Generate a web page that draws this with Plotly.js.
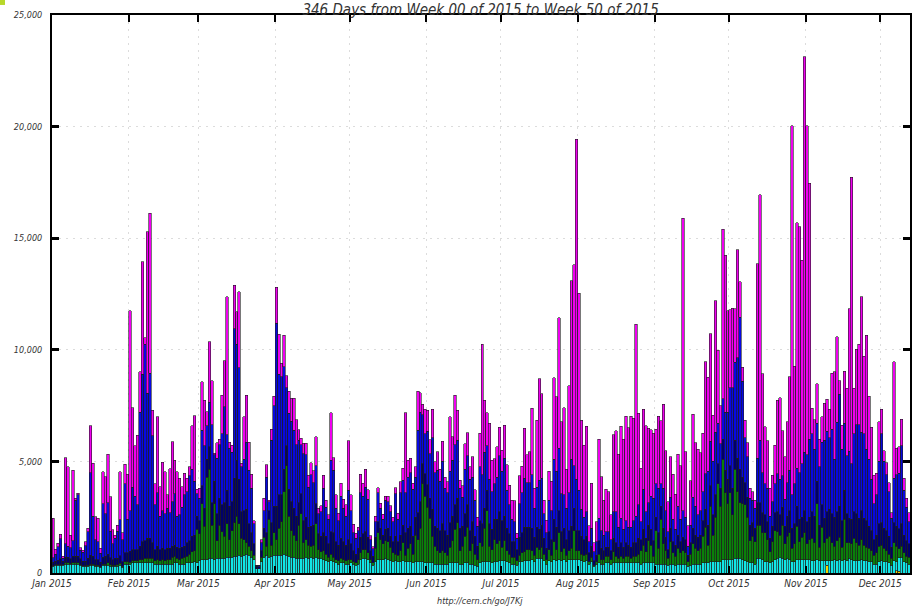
<!DOCTYPE html>
<html>
<head>
<meta charset="utf-8">
<script src="https://cdn.plot.ly/plotly-3.0.1.min.js"></script>
<style>html,body{margin:0;padding:0;background:#fff;}#chart{width:912px;height:607px;}</style>
</head>
<body>
<div id="chart"></div>
<script>
// ---- DATA (one value per day, 2015-01-01 .. 2015-12-12, 346 days) ----
const startDate = '2015-01-01';
const nDays = 346;
const chartTitle = '346 Days from Week 00 of 2015 to Week 50 of 2015';
const footerText = 'http://cern.ch/go/J7Kj';

const cyanVals = [
 300,350,350,350,350,400,400,400,400,400,400,350,300,300,300,350,350,300,300,250,350,350,350,300,300,300,300,350,250,400,400,
 400,450,450,450,450,450,450,450,450,450,400,400,400,400,400,400,400,400,450,450,400,400,400,450,450,450,500,450,
 550,600,600,600,650,650,600,650,650,650,650,700,700,700,750,750,800,750,800,850,800,700,600,200,200,500,700,800,700,750,800,
 800,800,800,850,800,750,700,700,650,650,650,650,700,650,700,650,700,650,650,600,550,500,550,500,450,400,450,450,400,400,
 450,400,350,400,600,650,650,600,450,350,500,600,600,600,650,600,550,500,550,500,500,550,500,500,500,450,500,500,500,500,450,
 450,450,450,400,400,400,400,400,400,450,450,450,450,400,400,450,450,400,400,350,300,450,500,500,500,500,450,500,500,550,
 550,550,500,450,400,400,350,500,500,550,550,550,600,500,650,650,650,550,400,550,500,600,550,600,550,600,500,600,600,600,600,
 600,550,500,550,400,500,300,400,450,400,400,450,450,400,450,450,450,450,450,450,450,450,450,450,450,400,450,450,450,450,450,
 400,400,400,400,400,350,400,400,350,400,400,400,400,300,350,400,400,400,400,450,450,450,500,500,500,500,500,600,600,600,
 600,600,650,650,650,600,550,500,450,450,400,650,650,600,500,500,450,500,600,650,700,650,600,650,600,500,500,600,600,600,600,
 600,600,550,550,600,550,550,550,200,550,550,600,550,600,550,600,550,650,600,550,550,550,600,550,550,500,500,400,400,500,
 550,500,500,450,350,550,400,600,700,500,450,400
];
const greenVals = [
 30,30,30,30,20,50,50,40,50,60,50,30,30,30,50,50,50,50,40,30,50,50,100,80,50,50,60,80,50,100,100,
 80,100,100,100,150,150,200,200,200,200,150,200,150,200,150,200,200,300,300,200,200,250,300,300,400,500,500,1500,
 1200,2500,1500,3700,4000,1500,2500,800,1500,1200,1000,1500,800,1200,1500,1800,1400,800,700,500,400,300,200,0,0,200,900,400,1700,500,1000,
 700,1200,1500,2800,4000,1800,1200,1000,800,1500,2000,700,800,600,500,600,1500,400,300,400,300,200,300,200,150,150,200,150,150,200,
 150,100,100,200,300,400,400,300,150,100,600,1200,900,700,800,800,600,400,300,300,500,800,300,600,800,400,1200,1000,1500,3500,3000,
 2500,2000,1200,800,600,500,600,500,400,700,1000,1500,1800,600,800,1200,1600,600,900,500,300,900,700,1500,2300,700,600,1000,800,900,
 600,900,500,400,300,300,200,300,400,400,500,500,400,300,500,400,500,300,200,500,300,800,500,1200,400,500,300,400,500,1300,400,
 400,300,300,300,100,200,50,100,400,200,200,300,300,200,500,300,200,300,200,300,300,200,300,300,400,600,800,500,1000,800,300,
 1500,700,2000,900,600,300,1000,500,400,700,500,600,500,200,500,900,700,600,700,1200,1600,800,2500,1200,2000,3500,2500,4500,3000,2500,
 3000,2000,4000,3000,2500,2500,2500,2000,1000,1200,1000,1500,1500,1200,1300,1000,500,900,1300,1200,1000,1500,700,1000,1200,600,800,1500,800,1000,1200,
 700,900,1000,800,2500,600,1500,800,1000,1100,800,600,900,1000,600,1800,800,700,700,1000,800,700,900,700,600,600,500,400,500,700,
 700,600,500,400,300,800,700,400,500,400,300,300
];
const navyVals = [
 150,150,200,250,150,250,250,200,300,300,300,250,200,200,300,400,350,250,250,200,300,350,400,300,250,300,300,350,200,400,400,
 500,500,500,500,600,800,800,900,900,700,500,600,500,500,500,500,500,500,500,500,500,500,500,600,600,700,700,600,
 600,800,800,800,1000,1000,1000,1200,1200,1200,1500,1500,1500,1300,2000,2500,2000,1200,1300,1500,1000,800,500,100,80,300,400,600,400,1000,1200,
 1500,1500,1200,1000,900,1200,1300,1200,1100,1000,900,1000,1000,800,900,900,900,700,700,800,800,600,1000,1100,800,700,900,800,700,900,
 700,500,400,500,700,700,800,700,400,300,500,500,500,400,500,600,500,500,800,600,700,800,1000,900,800,800,800,1200,1200,900,1000,
 1000,900,1200,900,1000,1000,1200,1000,900,1100,1100,1100,1100,1000,900,1000,1000,900,1000,800,600,1000,1000,900,900,1000,900,900,1100,1300,
 1200,1100,1000,900,700,700,500,800,900,1100,1000,1000,1000,800,900,900,1000,700,500,800,700,1000,1000,1000,900,900,700,900,1000,1000,900,
 900,800,700,800,400,500,200,300,600,500,400,400,400,400,600,600,500,600,500,600,500,500,600,600,700,500,700,600,700,700,700,
 600,700,600,700,600,400,600,500,500,600,500,600,600,300,500,700,600,600,600,700,800,900,900,900,1000,900,800,900,1000,1100,
 1200,1200,1300,1500,1500,1200,1000,900,700,600,600,1000,1000,900,800,800,600,700,800,900,900,800,800,900,1000,900,900,900,1000,900,1000,
 1000,1000,1200,1200,1000,1000,1000,1100,1200,1200,1300,1300,1300,1400,1200,1300,1300,1100,1100,1200,1300,1200,1300,1200,1200,1000,900,700,800,1000,
 1000,900,900,800,500,900,900,900,1000,800,700,600
];
const blueVals = [
 200,300,600,900,150,600,500,500,700,2500,2750,400,400,700,1200,3700,1800,900,800,400,2400,1900,2300,1200,700,900,1200,1600,1000,3100,1500,
 1800,2800,2400,2000,6000,7500,8800,6500,7400,4800,2000,2400,1500,1700,1600,1800,1600,2000,2300,1400,1500,1800,2300,2300,2900,3000,2400,1000,
 1000,2500,2800,1500,2000,3500,1200,2500,2400,3200,4300,2500,2600,2200,6700,5200,5000,2000,2300,3000,2400,2000,900,50,70,350,800,2500,400,3700,4500,
 8200,5400,5300,4600,2600,3400,3600,3500,3200,2800,2200,3000,2800,1800,2300,1900,1700,900,1100,2000,1300,1100,3200,2800,1500,1100,1900,1500,1300,2200,
 1500,800,700,800,2000,1700,2000,1700,500,330,700,1300,900,700,1300,1200,1100,900,1900,1000,1900,2000,1800,2300,2400,2100,1800,3700,4000,2200,1800,
 2400,2000,3200,2400,2600,2200,2800,1900,1900,2300,2500,2700,2600,1800,1300,2000,2200,2300,2000,1600,900,2400,2200,2500,2000,2000,1700,1600,1900,2500,
 2200,2600,1700,1300,1000,900,500,1500,1800,2200,2000,2000,2400,1300,1800,2200,2100,1100,700,1400,1300,2700,2500,2800,1700,1500,1400,1700,3000,1900,2300,
 1800,1200,1000,1100,500,800,400,600,1000,800,700,700,700,500,1200,1400,900,1100,800,1000,800,900,1000,1200,1500,800,1800,1200,1000,1500,1900,
 1500,2000,1000,1800,1200,800,1400,1000,700,1300,1000,1200,1000,400,800,1400,1300,1000,1100,1300,1600,2400,2000,2400,2800,1800,2000,1800,2600,3000,
 3500,4500,3500,4500,6800,4300,2000,1800,1200,1000,900,2000,2800,1800,1400,1500,1000,1100,1300,1700,1600,1400,1200,1500,1800,1500,1800,1700,2100,2400,2600,
 3000,3500,3500,3000,2600,2600,2800,3500,3600,3200,3800,2600,4000,5000,3200,3000,2600,3000,2500,3500,4000,4200,3500,3800,3200,3000,2300,1600,1800,2800,
 4000,3000,2500,2000,1300,2000,2300,2500,3500,2000,1500,1000
];
const magentaVals = [
 1770,230,150,200,90,3870,3560,560,3160,80,70,100,100,170,150,2090,2360,1020,1060,220,1440,1660,2170,1540,630,150,290,2160,300,880,2030,
 8960,3560,2250,3130,1820,5050,280,7240,7160,1150,950,3400,1320,2170,1890,600,1960,2680,1510,1990,1650,920,980,600,410,1950,2950,210,
 440,2170,2050,630,2710,1970,60,690,250,1720,2060,6180,250,330,1950,1460,3410,160,1900,2120,1250,630,140,0,0,130,540,540,70,490,430,
 1600,1800,590,1410,540,1000,1030,1430,1110,470,280,460,510,540,540,530,1310,250,260,590,320,200,2130,570,600,320,570,400,500,2230,
 700,390,230,150,830,570,790,440,160,100,250,230,220,240,200,250,260,200,280,270,490,540,3580,760,640,270,460,1750,880,470,1080,
 950,610,1280,490,830,540,900,500,490,2450,1060,2220,1350,360,500,1130,1040,560,910,470,400,1520,5850,2350,1480,2500,1410,1130,1360,1270,
 950,1480,1140,890,870,940,230,1250,1180,2230,1240,1390,2980,890,3000,4560,3790,620,570,1300,1310,3650,3350,5840,3220,3910,1750,4790,8000,9000,15230,
 8830,4000,3230,3830,710,2020,410,900,3540,2420,1570,1900,1790,1100,3440,3620,3270,4130,4040,4680,4450,4980,4580,8600,4100,2390,3580,3840,3330,2960,2910,
 2440,3230,2820,3770,2680,1350,1810,2030,1580,2330,2400,13090,2940,910,1980,3720,2840,2940,2590,2610,5020,4220,4810,2070,5900,3290,1700,7600,7030,4560,
 3490,3560,2380,4830,1610,610,800,640,440,390,370,8700,10990,4430,2560,2130,1240,1190,1730,3290,3660,2020,1900,2720,4190,16530,5270,11000,11020,9120,17730,
 14730,11460,1130,1310,1790,1250,1160,1650,1430,1280,2490,3910,3830,610,1070,2340,3020,6400,12820,2020,3370,3600,6070,3470,5110,2830,2340,1290,970,1770,
 1080,480,540,400,260,5220,1180,1170,1190,540,400,400
];
const yellowDays = ['2015-11-09', '2015-12-07', '2015-12-08'];
const yellowVals = [350, 100, 80];

// ---- build day positions (bar centred at noon of each day) ----
const DAY = 86400000;
const t0 = Date.parse(startDate + 'T00:00:00Z');
function iso(ms){ const d = new Date(ms); return d.toISOString().slice(0,10) + ' 12:00'; }
const days = [];
for (let i = 0; i < nDays; i++) days.push(iso(t0 + i * DAY));
const yellowX = yellowDays.map(d => d + ' 12:00');

const edge = {color: '#1e1e1e', width: 0.6};
function bar(x, y, color, name){
  return {type: 'bar', x: x, y: y, name: name, width: DAY,
          marker: {color: color, line: edge}, hoverinfo: 'skip'};
}
const traces = [
  bar(yellowX, yellowVals, '#f2d600', 'yellow'),
  bar(days, cyanVals, '#12e6e6', 'cyan'),
  bar(days, greenVals, '#0a800a', 'green'),
  bar(days, navyVals, '#00006a', 'navy'),
  bar(days, blueVals, '#0808e0', 'blue'),
  bar(days, magentaVals, '#f000f0', 'magenta')
];

const fam = 'DejaVu Sans Condensed, DejaVu Sans, sans-serif';
const gridStyle = {showgrid: true, gridcolor: '#dcdcdc', griddash: '2px,5px', gridwidth: 1};
const layout = {
  width: 912, height: 607,
  margin: {l: 52, r: 2, t: 15, b: 34, pad: 0},
  paper_bgcolor: '#ffffff', plot_bgcolor: '#ffffff',
  barmode: 'stack', bargap: 0, showlegend: false,
  font: {family: fam, color: '#333'},
  title: {text: chartTitle, x: 0.527, xref: 'container', xanchor: 'center',
          y: 0.9845, yref: 'container', yanchor: 'middle',
          font: {family: fam, size: 15, style: 'italic', color: '#333'}},
  xaxis: Object.assign({type: 'date', range: ['2015-01-01', '2015-12-13'],
          tick0: '2015-01-01', dtick: 'M1', tickformat: '%b %Y',
          ticks: 'inside', ticklen: 7, tickwidth: 2, tickcolor: '#000',
          showline: true, linecolor: '#000', linewidth: 2, mirror: 'ticks',
          tickfont: {family: fam, size: 10, style: 'italic', color: '#333'},
          zeroline: false, fixedrange: true}, gridStyle),
  yaxis: Object.assign({range: [0, 25000], dtick: 5000, tick0: 0, tickformat: ',d',
          ticks: 'inside', ticklen: 7, tickwidth: 3, tickcolor: '#000',
          showline: true, linecolor: '#000', linewidth: 2, mirror: 'ticks',
          ticklabelstandoff: 6,
          tickfont: {family: fam, size: 9, style: 'italic', color: '#333'},
          zeroline: false, fixedrange: true}, gridStyle),
  annotations: [{text: footerText, xref: 'paper', yref: 'paper', x: 0.4988, y: -0.050,
                 xanchor: 'center', yanchor: 'middle', showarrow: false,
                 font: {family: fam, size: 9, style: 'italic', color: '#333'}}],
  shapes: [{type: 'rect', xref: 'paper', yref: 'paper', x0: -0.0606, x1: -0.0548, y0: 1.018, y1: 1.03,
            fillcolor: '#b8d82a', line: {width: 0}}]
};
Plotly.newPlot('chart', traces, layout, {staticPlot: true, displayModeBar: false});
</script>
</body>
</html>
